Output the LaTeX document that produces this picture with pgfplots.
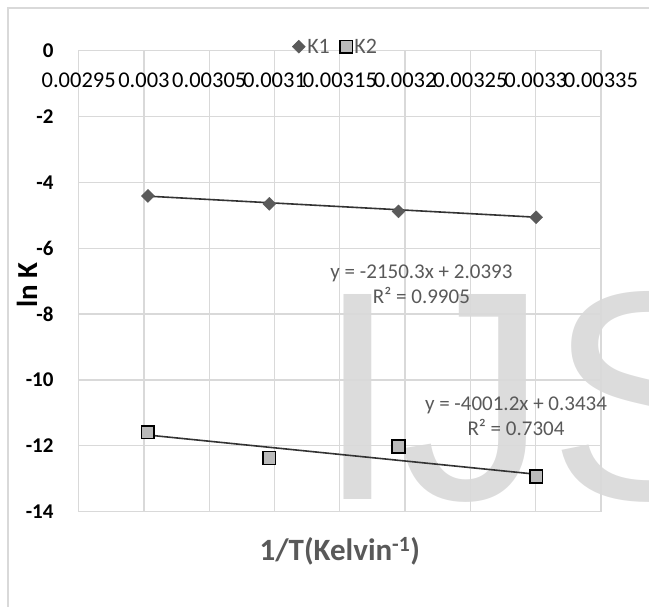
\documentclass[border=0pt]{standalone}
\usepackage{pgfplots}
\pgfplotsset{compat=1.18}
\usepackage{pgfplotstable}
\usepackage{fontspec}
\setmainfont{Carlito}
\newfontfamily\wmfont{Liberation Sans}
\definecolor{gridgray}{HTML}{D9D9D9}
\definecolor{wmgray}{HTML}{DCDCDC}
\definecolor{txtgray}{HTML}{595959}
\definecolor{k1gray}{HTML}{5A5A5A}
\definecolor{k2fill}{HTML}{BABABA}
\definecolor{trend}{HTML}{333333}

\pgfplotstableread{
x y
0.0030030 -4.41
0.0030960 -4.65
0.0031949 -4.88
0.0033003 -5.06
}\kone
\pgfplotstableread{
x y
0.0030030 -11.59
0.0030960 -12.37
0.0031949 -12.02
0.0033003 -12.93
}\ktwo
\pgfplotstableread{
x y
0.0030030 -4.418
0.0033003 -5.057
}\konetrend
\pgfplotstableread{
x y
0.0030030 -11.672
0.0033003 -12.862
}\ktwotrend

\begin{document}
\begin{tikzpicture}[x=1pt,y=1pt]
\useasboundingbox (0,0) rectangle (649,607);
% chart area border
\draw[gridgray, line width=1.5pt] (8,-5) -- (8,599) -- (660,599);
% watermark
\node[anchor=base west, inner sep=0pt, text=wmgray] at (316,107) {\wmfont\fontsize{298}{298}\selectfont IJS};
\begin{axis}[
  at={(78.7pt,95.3pt)}, anchor=south west,
  scale only axis, width=522.3pt, height=461pt,
  xmin=0.00295, xmax=0.00335, ymin=-14, ymax=0,
  xtick={0.00295,0.003,0.00305,0.0031,0.00315,0.0032,0.00325,0.0033,0.00335},
  xticklabels={0.00295,0.003,0.00305,0.0031,0.00315,0.0032,0.00325,0.0033,0.00335},
  ytick={-14,-12,-10,-8,-6,-4,-2,0},
  yticklabels={-14,-12,-10,-8,-6,-4,-2,0},
  scaled x ticks=false,
  xticklabel pos=upper,
  major tick length=0pt,
  grid=major,
  major grid style={gridgray, line width=1.3pt},
  axis line style={gridgray, line width=1.3pt},
  xticklabel style={anchor=center, inner sep=0pt, yshift=-29.3pt, font=\fontsize{22.5}{26}\selectfont, text=black},
  yticklabel style={anchor=east, inner sep=0pt, xshift=-25pt, font=\bfseries\fontsize{21}{25}\selectfont, text=black},
  every axis x label/.style={at={(axis description cs:0.5,-0.085)}, anchor=center},
  every axis y label/.style={at={(axis description cs:-0.099,0.492)}, anchor=center, rotate=90},
  xlabel={\textbf{1/T(Kelvin\textsuperscript{-1})}},
  ylabel={\textbf{ln K}},
  xlabel style={font=\fontsize{31}{36}\selectfont, text=txtgray},
  ylabel style={font=\fontsize{29}{34}\selectfont, text=black},
  legend columns=2,
  legend style={at={(axis description cs:0.492,1.0087)}, anchor=center, draw=none, fill=none,
    font=\fontsize{22}{26}\selectfont, text=txtgray, inner sep=0pt,
    /tikz/every even column/.append style={column sep=8pt}},
  legend image code/.code={\draw[mark repeat=2,mark phase=2,#1] plot coordinates {(0pt,0pt) (7pt,0pt) (14pt,0pt)};},
  clip=false,
]
\addplot[no marks, line width=1.6pt, trend, forget plot] table[x=x,y=y]{\konetrend};
\addplot[no marks, line width=1.6pt, trend, forget plot] table[x=x,y=y]{\ktwotrend};
\addplot[only marks, mark=square*, mark size=4.6pt, mark options={rotate=45, fill=k1gray, draw=k1gray}] table[x=x,y=y]{\kone};
\addlegendentry{K1}
\addplot[only marks, mark=square*, mark size=6.3pt, mark options={fill=k2fill, draw=black, line width=1.5pt}] table[x=x,y=y]{\ktwo};
\addlegendentry{K2}
\node[align=center, text=txtgray, font=\fontsize{21}{25}\selectfont, inner sep=0pt] at (axis cs:0.0032125,-7.10) {y = -2150.3x + 2.0393\\R² = 0.9905};
\node[align=center, text=txtgray, font=\fontsize{21}{25}\selectfont, inner sep=0pt] at (axis cs:0.0032849,-11.09) {y = -4001.2x + 0.3434\\R² = 0.7304};
\end{axis}
\end{tikzpicture}
\end{document}
